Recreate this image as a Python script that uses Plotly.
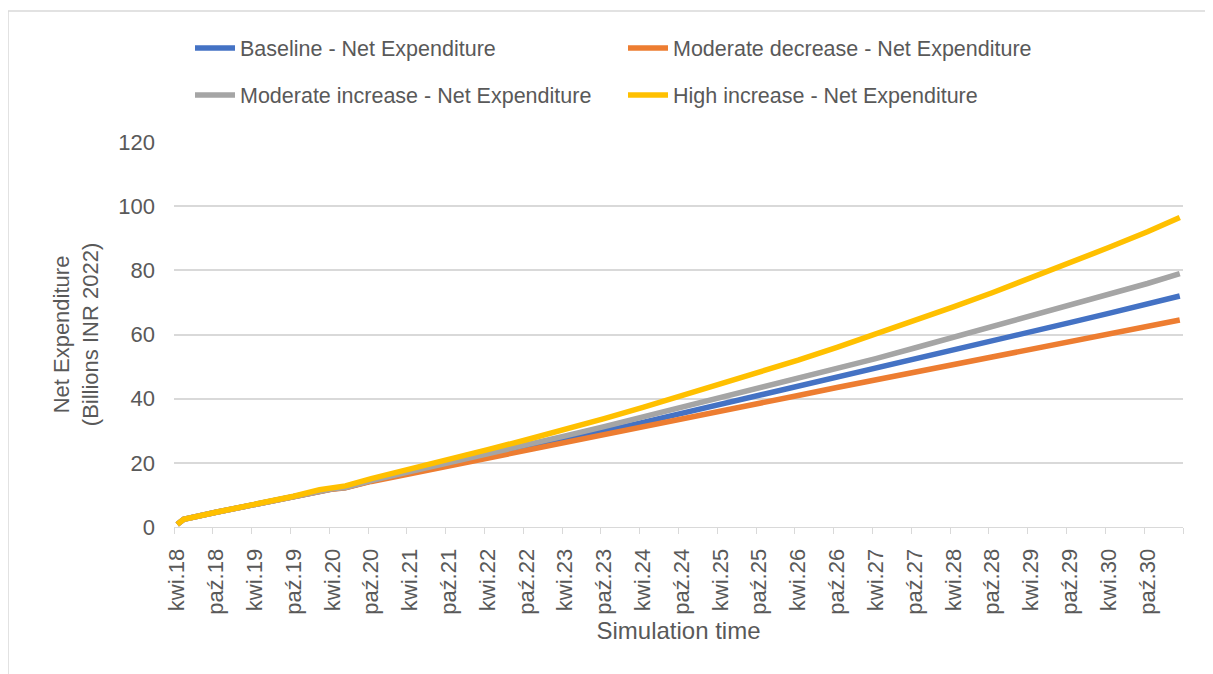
import plotly.graph_objects as go

# month index from kwi.18 (April 2018), one category per month
months = [0, 1, 6, 12, 18, 22, 24, 26, 30, 36, 42, 48, 54, 60, 66, 72, 78, 84,
          90, 96, 102, 108, 114, 120, 126, 132, 138, 144, 150, 155]

baseline = [0.8, 2.4, 4.6, 7.0, 9.4, 11.3, 11.9, 12.3, 14.4, 17.0, 19.5, 22.0,
            24.6, 27.2, 29.9, 32.6, 35.4, 38.1, 40.9, 43.7, 46.6, 49.5, 52.4,
            55.3, 58.1, 60.9, 63.7, 66.6, 69.5, 72.0]
mod_decrease = [0.8, 2.4, 4.6, 7.0, 9.4, 11.2, 11.8, 12.2, 14.2, 16.6, 19.0,
                21.4, 23.8, 26.3, 28.8, 31.2, 33.7, 36.1, 38.6, 41.0, 43.5,
                45.9, 48.4, 50.9, 53.3, 55.7, 58.0, 60.3, 62.6, 64.5]
mod_increase = [0.8, 2.4, 4.6, 7.0, 9.4, 11.3, 11.9, 12.3, 14.5, 17.3, 20.0,
                22.8, 25.6, 28.4, 31.3, 34.3, 37.3, 40.2, 43.2, 46.1, 49.3,
                52.5, 55.8, 59.1, 62.3, 65.6, 69.0, 72.4, 75.9, 79.0]
high_increase = [0.8, 2.4, 4.6, 7.0, 9.6, 11.6, 12.3, 12.8, 15.1, 18.0, 21.0,
                 24.1, 27.2, 30.4, 33.8, 37.3, 40.9, 44.5, 48.2, 52.0, 56.0,
                 60.1, 64.3, 68.6, 73.0, 77.6, 82.3, 87.1, 92.0, 96.5]

tick_pos = list(range(0, 151, 6))
tick_text = []
for yr in range(18, 31):
    tick_text += ["kwi.{0}".format(yr), "paź.{0}".format(yr)]

series = [
    ("Baseline - Net Expenditure", baseline, "#4472C4", "legend"),
    ("Moderate decrease - Net Expenditure", mod_decrease, "#ED7D31", "legend"),
    ("Moderate increase - Net Expenditure", mod_increase, "#A5A5A5", "legend2"),
    ("High increase - Net Expenditure", high_increase, "#FFC000", "legend2"),
]

FONT = "Liberation Sans"
TXT = "#595959"
GRID = "#d9d9d9"

# the page body adds 8px, so the figure is laid out 8px up/left
L, R, T, B = 166, 38, 134, 155
PW, PH = 1213 - L - R, 674 - T - B

fig = go.Figure()
for name, vals, col, leg in series:
    fig.add_trace(go.Scatter(
        x=months, y=vals, name=name, mode="lines",
        line=dict(color=col, width=5.5),
        legend=leg,
    ))

leg_common = dict(
    orientation="h",
    xref="container", yref="container",
    xanchor="left", yanchor="middle",
    entrywidth=378, entrywidthmode="pixels",
    font=dict(family=FONT, size=21.5, color=TXT),
    bgcolor="rgba(0,0,0,0)",
    itemwidth=40,
)

fig.update_layout(
    width=1213, height=674,
    margin=dict(l=L, r=R, t=T, b=B),
    paper_bgcolor="white",
    plot_bgcolor="white",
    font=dict(family=FONT, color=TXT),
    legend=dict(x=182 / 1213, y=1 - 40 / 674, **leg_common),
    legend2=dict(x=182 / 1213, y=1 - 87 / 674, **leg_common),
    xaxis=dict(
        range=[-0.5, 155.5],
        tickmode="array", tickvals=tick_pos, ticktext=tick_text,
        tickangle=-90,
        tickfont=dict(size=22, color=TXT),
        ticks="",
        ticklabelstandoff=12,
        showline=True, linecolor=GRID, linewidth=1,
        showgrid=False, zeroline=False,
        minor=dict(tickmode="array",
                   tickvals=[p - 0.5 for p in tick_pos] + [155.5],
                   ticks="outside", ticklen=6, tickcolor=GRID, showgrid=False),
        title=dict(text="Simulation time", font=dict(size=24, color=TXT), standoff=8),
    ),
    yaxis=dict(
        range=[0, 120], dtick=20,
        tickfont=dict(size=22, color=TXT),
        showgrid=True, gridcolor=GRID, gridwidth=1.5,
        zeroline=False, showline=False,
        ticklabelstandoff=18,
        title=dict(text="Net Expenditure<br>(Billions INR 2022)",
                   font=dict(size=22, color=TXT), standoff=13),
    ),
)

# light frame round the whole chart
fig.add_shape(type="rect", xref="paper", yref="paper",
              x0=(0 - L) / PW, x1=(1203 - L) / PW,
              y0=(T + PH - 700) / PH, y1=(T + PH - 3) / PH,
              line=dict(color=GRID, width=1.5), layer="below")

fig.write_html("out.html")
